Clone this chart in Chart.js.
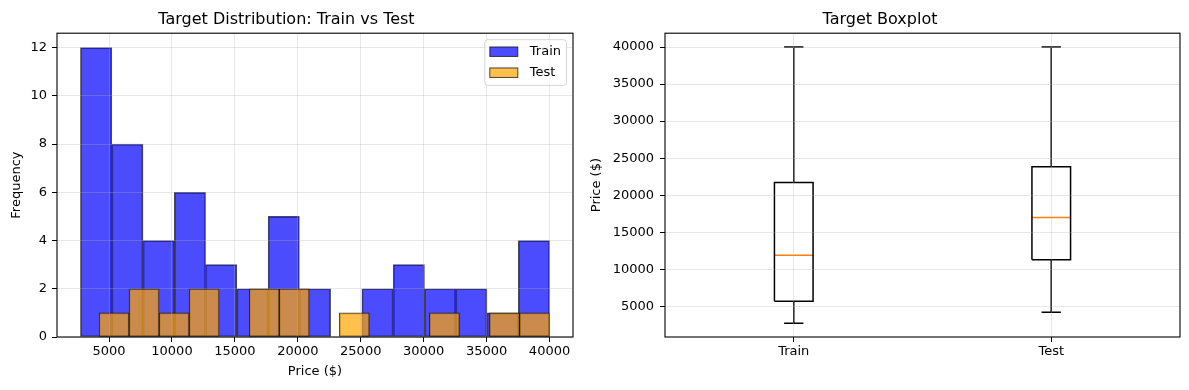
<!DOCTYPE html>
<html>
<head>
<meta charset="utf-8">
<script src="https://cdn.jsdelivr.net/npm/chart.js@4.4.1/dist/chart.umd.min.js"></script>
<style>
   html, body { margin: 0; padding: 0; background: #fff; }
   #wrap { position: relative; width: 1189px; height: 390px; }
   #histChart { position: absolute; left: 0; top: 0; }
   #boxChart { position: absolute; left: 580px; top: 0; }
</style>
</head>
<body>
<div id="wrap">
   <canvas id="histChart" width="580" height="390"></canvas>
   <canvas id="boxChart" width="609" height="390"></canvas>
</div>
<script>
// ==========================================
// Data
// ==========================================

// histogram: centre of each bin ($) and how many rows fall in it
const trainBins = [3971, 6456, 8941, 11425, 13910, 16395, 18880, 21364, 23849, 26334, 28819, 31303, 33788, 36273, 38758];
const trainCounts = [12, 8, 4, 6, 3, 2, 5, 2, 0, 2, 3, 2, 2, 1, 4];
const testBins = [5399, 7786, 10172, 12558, 14945, 17331, 19717, 22103, 24490, 26876, 29262, 31649, 34035, 36421, 38807];
const testCounts = [1, 2, 1, 2, 0, 2, 2, 0, 1, 0, 0, 1, 0, 1, 1];

const priceTicks = [5000, 10000, 15000, 20000, 25000, 30000, 35000, 40000];
const freqTicks = [0, 2, 4, 6, 8, 10, 12];

// boxplot stats per group
const groups = ["Train", "Test"];
const whiskerLow = [2729, 4206];
const q1 = [5700, 11300];
const medians = [11900, 17000];
const q3 = [21700, 23850];
const whiskerHigh = [40000, 40000];

// ==========================================
// Shared style
// ==========================================

Chart.defaults.font.family = "'DejaVu Sans', sans-serif";
Chart.defaults.font.size = 13;
Chart.defaults.color = "#000";

const gridColor = "rgba(176,176,176,0.3)";

function gridOpts() {
   return { color: gridColor, lineWidth: 1, z: 1, offset: false,
      tickColor: "#000", tickLength: 5, tickWidth: 1 };
}

function titleOpts(text) {
   return { display: true, text: text, font: { size: 16, weight: "normal" },
      color: "#000", padding: { top: 10, bottom: 4 } };
}

// matplotlib draws a full box round each axes
const frame = {
   id: "frame",
   afterDraw(chart) {
      const { ctx, chartArea: a } = chart;
      ctx.save();
      ctx.strokeStyle = "#000";
      ctx.lineWidth = 1.1;
      ctx.strokeRect(a.left, a.top, a.right - a.left, a.bottom - a.top);
      ctx.restore();
   }
};

function roundBox(ctx, x, y, w, h, r) {
   ctx.beginPath();
   ctx.moveTo(x + r, y);
   ctx.arcTo(x + w, y, x + w, y + h, r);
   ctx.arcTo(x + w, y + h, x, y + h, r);
   ctx.arcTo(x, y + h, x, y, r);
   ctx.arcTo(x, y, x + w, y, r);
   ctx.closePath();
}

// legend inside the plot, upper right
const insideLegend = {
   id: "insideLegend",
   afterDraw(chart) {
      const { ctx, chartArea: a } = chart;
      const sets = chart.data.datasets;
      ctx.save();
      ctx.font = "13px 'DejaVu Sans'";
      const textW = Math.max(...sets.map((d) => ctx.measureText(d.label).width));
      const w = 5 + 28 + 12 + textW + 5.5;
      const h = sets.length * 21 + 3.7;
      const x0 = a.right - 6.5 - w;
      const y0 = a.top + 6.5;
      roundBox(ctx, x0, y0, w, h, 3);
      ctx.fillStyle = "rgba(255,255,255,0.8)";
      ctx.fill();
      ctx.strokeStyle = "rgba(204,204,204,0.8)";
      ctx.lineWidth = 1;
      ctx.stroke();
      sets.forEach((d, i) => {
         const cy = y0 + 12 + i * 21;
         ctx.fillStyle = d.backgroundColor;
         ctx.fillRect(x0 + 5, cy - 4.75, 28, 9.5);
         ctx.strokeStyle = d.borderColor;
         ctx.strokeRect(x0 + 5, cy - 4.75, 28, 9.5);
         ctx.fillStyle = "#000";
         ctx.textBaseline = "middle";
         ctx.fillText(d.label, x0 + 45, cy);
      });
      ctx.restore();
   }
};

// ==========================================
// Histogram
// ==========================================

const half = (bins) => (bins[1] - bins[0]) / 2;
const histLo = Math.min(trainBins[0] - half(trainBins), testBins[0] - half(testBins));
const histHi = Math.max(trainBins[trainBins.length - 1] + half(trainBins), testBins[testBins.length - 1] + half(testBins));
const histPad = (histHi - histLo) * 0.05;

let histChart = new Chart(document.getElementById("histChart"), {
   type: "bar",
   data: {
      datasets: [{
         label: "Train",
         data: trainBins.map((b, i) => ({ x: b, y: trainCounts[i] })),
         backgroundColor: "rgba(0,0,255,0.7)",
         borderColor: "rgba(0,0,0,0.7)",
         borderWidth: 1,
         borderSkipped: false,
         barPercentage: 1,
         categoryPercentage: 1,
         grouped: false,
         order: 1,
         xAxisID: "x"
      }, {
         label: "Test",
         data: testBins.map((b, i) => ({ x: b, y: testCounts[i] })),
         backgroundColor: "rgba(255,165,0,0.7)",
         borderColor: "rgba(0,0,0,0.7)",
         borderWidth: 1,
         borderSkipped: false,
         barPercentage: 1,
         categoryPercentage: 1,
         grouped: false,
         order: 0,
         // own axis so the bar width follows its own bin spacing
         xAxisID: "x2"
      }]
   },
   options: {
      responsive: false,
      animation: false,
      layout: { padding: { left: 0, right: 7, top: 0, bottom: 0 } },
      plugins: {
         legend: { display: false },
         tooltip: { enabled: false },
         title: titleOpts("Target Distribution: Train vs Test")
      },
      scales: {
         x: {
            type: "linear",
            min: histLo - histPad,
            max: histHi + histPad,
            offset: false,
            grid: gridOpts(),
            border: { display: false },
            ticks: { padding: 2, maxRotation: 0, autoSkip: false, callback: (v) => String(v) },
            afterBuildTicks: (s) => { s.ticks = priceTicks.map((v) => ({ value: v })); },
            afterFit: (s) => { s.height = 53; },
            title: { display: true, text: "Price ($)", padding: { top: 0, bottom: 10.5 } }
         },
         x2: {
            type: "linear",
            display: false,
            min: histLo - histPad,
            max: histHi + histPad,
            offset: false,
            grid: { offset: false },
            afterBuildTicks: (s) => { s.ticks = priceTicks.map((v) => ({ value: v })); }
         },
         y: {
            min: 0,
            max: Math.max(...trainCounts, ...testCounts) * 1.05,
            grid: gridOpts(),
            border: { display: false },
            ticks: { padding: 5 },
            afterBuildTicks: (s) => { s.ticks = freqTicks.map((v) => ({ value: v })); },
            afterFit: (s) => { s.width = 57; },
            title: { display: true, text: "Frequency", padding: { top: 9, bottom: 0 } }
         }
      }
   },
   plugins: [frame, insideLegend]
});

// ==========================================
// Boxplot
// ==========================================

const boxW = 0.15;
const capW = 0.075;

// one point list per part, groups split by a null gap
function parts(fn) {
   let pts = [];
   groups.forEach((g, i) => {
      pts = pts.concat(fn(i + 1, i), [{ x: i + 1, y: null }]);
   });
   return pts;
}

const boxPts = parts((p, i) => [
   { x: p - boxW / 2, y: q1[i] }, { x: p + boxW / 2, y: q1[i] },
   { x: p + boxW / 2, y: q3[i] }, { x: p - boxW / 2, y: q3[i] },
   { x: p - boxW / 2, y: q1[i] }
]);
const whiskerPts = parts((p, i) => [
   { x: p, y: whiskerLow[i] }, { x: p, y: q1[i] }, { x: p, y: null },
   { x: p, y: q3[i] }, { x: p, y: whiskerHigh[i] }
]);
const capPts = parts((p, i) => [
   { x: p - capW / 2, y: whiskerLow[i] }, { x: p + capW / 2, y: whiskerLow[i] }, { x: p, y: null },
   { x: p - capW / 2, y: whiskerHigh[i] }, { x: p + capW / 2, y: whiskerHigh[i] }
]);
const medianPts = parts((p, i) => [
   { x: p - boxW / 2, y: medians[i] }, { x: p + boxW / 2, y: medians[i] }
]);

function lineSet(label, pts, color) {
   return { label: label, data: pts, borderColor: color, borderWidth: 1.5,
      pointRadius: 0, fill: false, spanGaps: false, tension: 0,
      borderCapStyle: "butt", borderJoinStyle: "miter" };
}

const boxLo = Math.min(...whiskerLow);
const boxHi = Math.max(...whiskerHigh);
const boxPad = (boxHi - boxLo) * 0.05;

let boxChart = new Chart(document.getElementById("boxChart"), {
   type: "line",
   data: {
      datasets: [
         lineSet("box", boxPts, "#000"),
         lineSet("whiskers", whiskerPts, "#000"),
         lineSet("caps", capPts, "#000"),
         lineSet("median", medianPts, "#ff7f0e")
      ]
   },
   options: {
      responsive: false,
      animation: false,
      layout: { padding: { left: 0, right: 9, top: 0, bottom: 0 } },
      plugins: {
         legend: { display: false },
         tooltip: { enabled: false },
         title: titleOpts("Target Boxplot")
      },
      scales: {
         x: {
            type: "linear",
            min: 0.5,
            max: groups.length + 0.5,
            offset: false,
            grid: gridOpts(),
            border: { display: false },
            ticks: { padding: 2, maxRotation: 0, autoSkip: false, callback: (v) => groups[v - 1] },
            afterBuildTicks: (s) => { s.ticks = groups.map((g, i) => ({ value: i + 1 })); },
            afterFit: (s) => { s.height = 53; }
         },
         y: {
            type: "linear",
            min: boxLo - boxPad,
            max: boxHi + boxPad,
            grid: gridOpts(),
            border: { display: false },
            ticks: { padding: 6, callback: (v) => String(v) },
            afterBuildTicks: (s) => { s.ticks = priceTicks.map((v) => ({ value: v })); },
            afterFit: (s) => { s.width = 85; },
            title: { display: true, text: "Price ($)", padding: { top: 9, bottom: 0 } }
         }
      }
   },
   plugins: [frame]
});
</script>
</body>
</html>
